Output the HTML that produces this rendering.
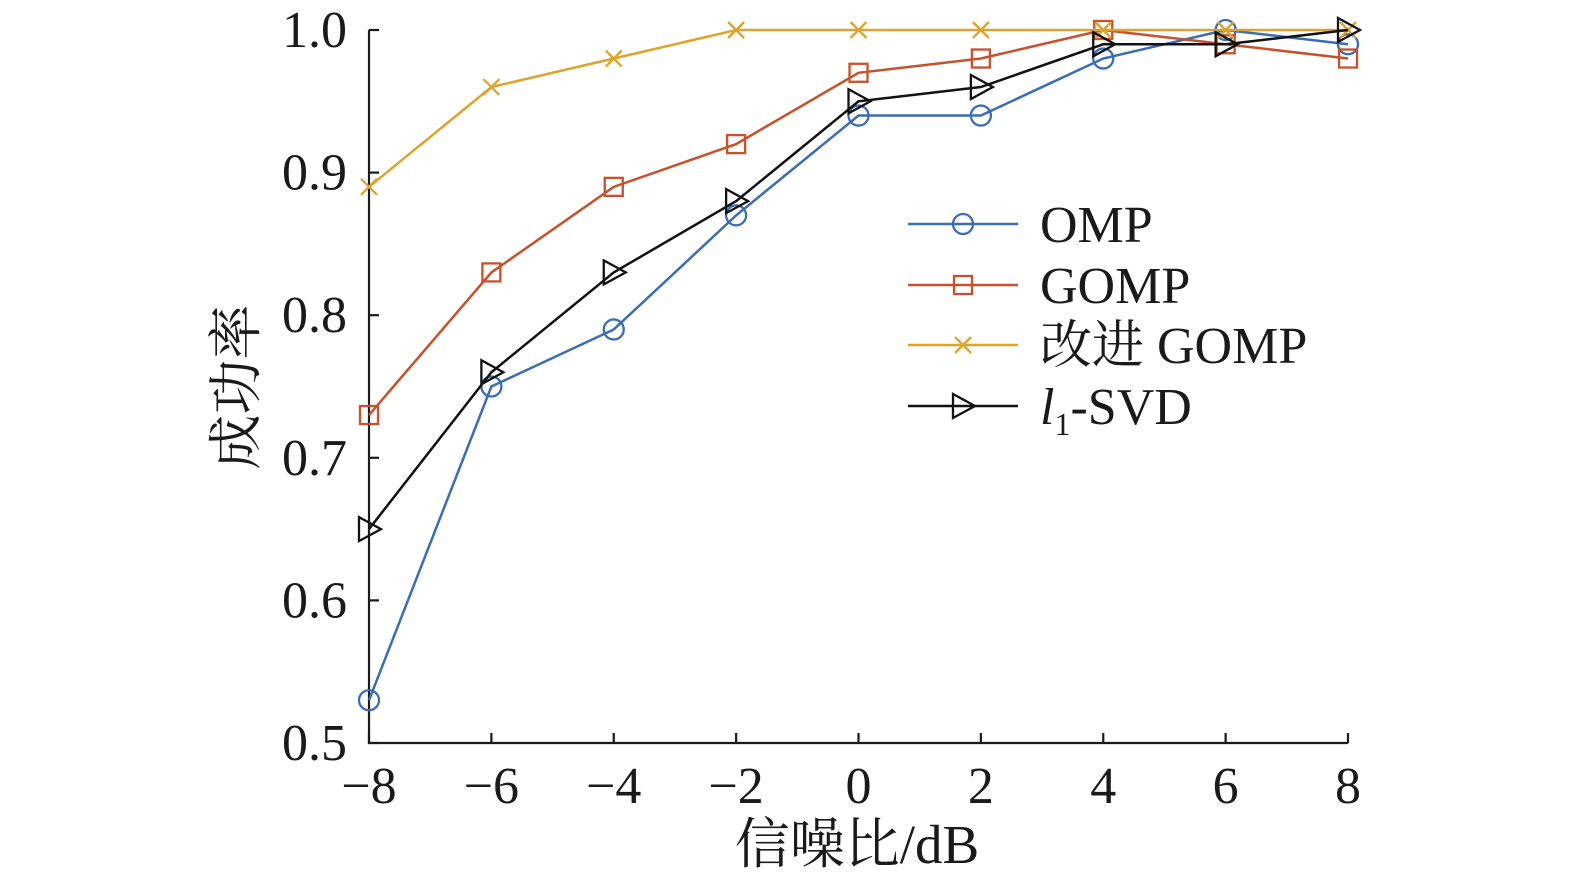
<!DOCTYPE html>
<html><head><meta charset="utf-8"><style>
body{margin:0;background:#fff;width:1575px;height:886px;overflow:hidden}
svg text{font-family:"Liberation Serif","Noto Serif CJK SC",serif;fill:#1a1a1a}
</style></head><body>
<svg id="chart" width="1575" height="886" xmlns="http://www.w3.org/2000/svg"></svg>
<script>
const xCats=[-8,-6,-4,-2,0,2,4,6,8];
const xTickLabels=["\u22128","\u22126","\u22124","\u22122","0","2","4","6","8"];
const yTicks=[0.5,0.6,0.7,0.8,0.9,1.0];
const yTickLabels=["0.5","0.6","0.7","0.8","0.9","1.0"];
const omp=[0.53,0.75,0.79,0.87,0.94,0.94,0.98,1.0,0.99];
const gomp=[0.73,0.83,0.89,0.92,0.97,0.98,1.0,0.99,0.98];
const impGomp=[0.89,0.96,0.98,1.0,1.0,1.0,1.0,1.0,1.0];
const l1svd=[0.65,0.76,0.83,0.88,0.95,0.96,0.99,0.99,1.0];

const svg=document.getElementById('chart');
const NS='http://www.w3.org/2000/svg';
const X0=369,X1=1348,Y0=743,Y1=30;
const xs=v=>X0+(v+8)/16*(X1-X0);
const ys=v=>Y0-(v-0.5)/0.5*(Y0-Y1);
function mk(t,a,p){const e=document.createElementNS(NS,t);for(const k in a)e.setAttribute(k,a[k]);(p||svg).appendChild(e);return e;}

const axes=mk('g',{});


mk('path',{d:`M${X0},${Y1}V${Y0}H${X1}`,stroke:'#1a1a1a','stroke-width':2.2,fill:'none'},axes);
xCats.forEach((c,i)=>{
  const x=xs(c);
  mk('line',{x1:x,x2:x,y1:Y0,y2:Y0-10,stroke:'#1a1a1a','stroke-width':2.2},axes);
  const t=mk('text',{x:x,y:803,'text-anchor':'middle','font-size':52},axes);
  t.textContent=xTickLabels[i];
  
  
});
yTicks.forEach((v,i)=>{
  const y=ys(v);
  mk('line',{x1:X0,x2:X0+10,y1:y,y2:y,stroke:'#1a1a1a','stroke-width':2.2},axes);
  const t=mk('text',{x:347,y:y+17,'text-anchor':'end','font-size':52},axes);
  t.textContent=yTickLabels[i];
  
  
});
const xt=mk('text',{x:857,y:863,'text-anchor':'middle','font-size':55});
xt.textContent='信噪比/dB';


const yt=mk('text',{x:0,y:0,'text-anchor':'middle','font-size':55,transform:'translate(255,387) rotate(-90)'});
yt.textContent='成功率';



function marker(kind,x,y,color,g){
  if(kind==='circle')mk('circle',{cx:x,cy:y,r:10,fill:'none',stroke:color,'stroke-width':2.3},g);
  else if(kind==='square')mk('rect',{x:x-9,y:y-9,width:18,height:18,fill:'none',stroke:color,'stroke-width':2.3},g);
  else if(kind==='x')mk('path',{d:`M${x-8},${y-8}L${x+8},${y+8}M${x-8},${y+8}L${x+8},${y-8}`,stroke:color,'stroke-width':2.3},g);
  else mk('path',{d:`M${x-10},${y-12}L${x+12},${y}L${x-10},${y+12}Z`,fill:'none',stroke:color,'stroke-width':2.3},g);
}
const series=[
  {name:'omp',vals:omp,color:'#3b6cb4',m:'circle'},
  {name:'gomp',vals:gomp,color:'#c9502b',m:'square'},
  {name:'improved-gomp',vals:impGomp,color:'#dea32c',m:'x'},
  {name:'l1-svd',vals:l1svd,color:'#111',m:'tri'}];
series.forEach(s=>{
  const g=mk('g',{});
  
  
  mk('polyline',{points:s.vals.map((v,i)=>xs(xCats[i])+','+ys(v)).join(' '),fill:'none',stroke:s.color,'stroke-width':2.5},g);
  s.vals.forEach((v,i)=>marker(s.m,xs(xCats[i]),ys(v),s.color,g));
});
const legLabels=['OMP','GOMP','改进 GOMP','l1-SVD'];
const legYs=[224,285,345,406];
series.forEach((s,i)=>{
  const g=mk('g',{});
  
  
  const y=legYs[i];
  mk('line',{x1:908,x2:1018,y1:y,y2:y,stroke:s.color,'stroke-width':2.5},g);
  marker(s.m,963,y,s.color,g);
  const t=mk('text',{x:1040,y:y+18,'font-size':52},g);
  if(i===3){t.innerHTML='<tspan font-style="italic">l</tspan><tspan font-size="32" dy="11">1</tspan><tspan dy="-11">-SVD</tspan>';}
  else t.textContent=legLabels[i];
});
</script>
</body></html>
